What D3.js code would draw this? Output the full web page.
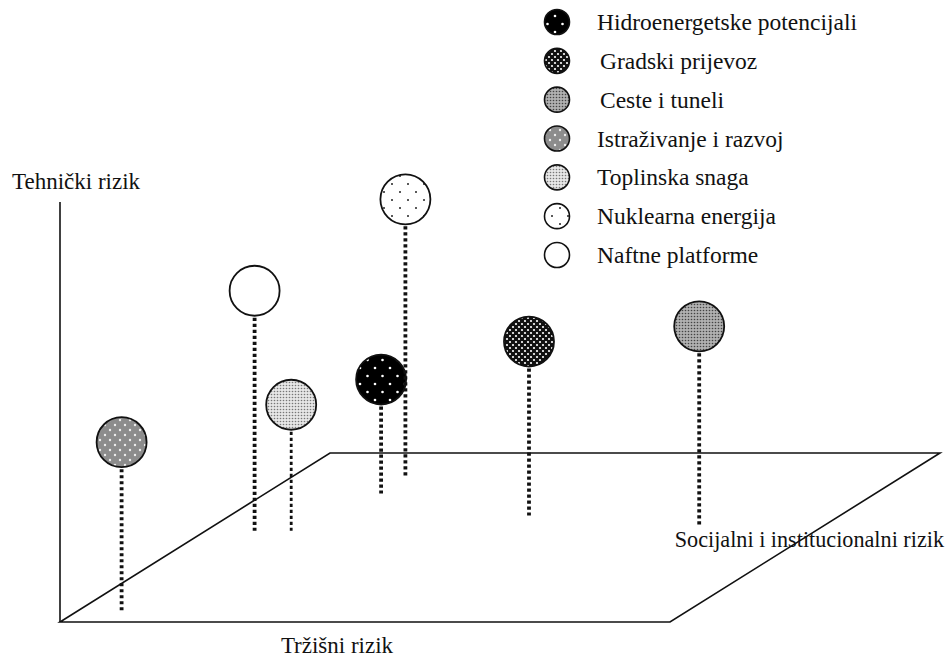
<!doctype html>
<html>
<head>
	<meta charset="utf-8">
	<script src="https://d3js.org/d3.v7.min.js"></script>
	<style>
		body { margin: 0; background: #fff; }
	</style>
</head>
<body>
<div id="chart"></div>
<script>
(function () {
	"use strict";

	// legend order (top to bottom)
	const projects = ["Hidroenergetske potencijali", "Gradski prijevoz", "Ceste i tuneli",
		"Istraživanje i razvoj", "Toplinska snaga", "Nuklearna energija", "Naftne platforme"];
	// risk values, 0-10 scale
	const marketRisk    = [1.9, 4.9, 8.0, 0.7, 1.4, 1.9, 0.8];
	const socialRisk    = [7.6, 6.3, 5.6, 0.7, 5.4, 8.5, 5.4];
	const technicalRisk = [3.8, 5.8, 6.7, 5.6, 4.2, 9.3, 8.0];
	const patternIds    = ["hidro", "gradski", "ceste", "istr", "topl", "nukl", "naft"];

	const FONT = "'Liberation Serif', 'DejaVu Serif', 'Times New Roman', serif";
	const width = 948, height = 659;
	const svg = d3.select("#chart").append("svg")
		.attr("width", width).attr("height", height)
		.attr("font-family", FONT);

	// floor plane: market risk runs along the front edge, social risk goes "into" the page
	const origin = [60, 622];
	const uScale = d3.scaleLinear().domain([0, 10]).range([0, 610]);
	const vxScale = d3.scaleLinear().domain([0, 10]).range([0, 270]);
	const vyScale = d3.scaleLinear().domain([0, 10]).range([0, 169]);
	const hScale = d3.scaleLinear().domain([0, 10]).range([0, 300]);
	const project3d = (m, s, t) => [origin[0] + uScale(m) + vxScale(s), origin[1] - vyScale(s) - hScale(t)];

	// patterns for the balls
	const defs = svg.append("defs");
	function pat(id, w, h, bg, dots, dotColor, r) {
		const p = defs.append("pattern").attr("id", id).attr("patternUnits", "userSpaceOnUse")
			.attr("width", w).attr("height", h);
		p.append("rect").attr("width", w).attr("height", h).attr("fill", bg);
		dots.forEach(d => p.append("circle").attr("cx", d[0]).attr("cy", d[1]).attr("r", r).attr("fill", dotColor));
	}
	pat("hidro", 15, 16, "#000", [[0, 0], [15, 0], [0, 16], [15, 16], [7.5, 8]], "#fff", 1.3);
	pat("gradski", 6, 6, "#111", [[0, 0], [6, 0], [0, 6], [6, 6], [3, 3]], "#fff", 1.1);
	pat("ceste", 3, 3, "#b0b0b0", [[1.5, 1.5]], "#444", 0.8);
	pat("istr", 10, 10, "#8c8c8c", [[0, 0], [10, 0], [0, 10], [10, 10], [5, 5]], "#eee", 1.2);
	pat("topl", 3, 3, "#e6e6e6", [[1.5, 1.5]], "#777", 0.8);
	pat("nukl", 16, 16, "#fff", [[0, 0], [16, 0], [0, 16], [16, 16], [8, 8]], "#222", 1.0);
	pat("naft", 10, 10, "#fff", [], "#fff", 0);

	// floor parallelogram and vertical axis
	const corners = [project3d(0, 0, 0), project3d(10, 0, 0), project3d(10, 10, 0), project3d(0, 10, 0)];
	svg.append("path")
		.attr("d", d3.line()(corners) + "Z")
		.attr("fill", "none").attr("stroke", "#111").attr("stroke-width", 1.6);
	svg.append("line")
		.attr("x1", origin[0]).attr("y1", origin[1])
		.attr("x2", origin[0]).attr("y2", project3d(0, 0, 14)[1])
		.attr("stroke", "#111").attr("stroke-width", 1.6);

	// axis labels
	svg.append("text").attr("x", 12).attr("y", 189).attr("font-size", 23).attr("fill", "#111").text("Tehnički rizik");
	svg.append("text").attr("x", 337).attr("y", 653).attr("font-size", 23).attr("fill", "#111").attr("text-anchor", "middle").text("Tržišni rizik");
	svg.append("text").attr("x", 944).attr("y", 547).attr("font-size", 22.2).attr("fill", "#111").attr("text-anchor", "end").text("Socijalni i institucionalni rizik");

	const R = 25;
	const items = projects.map((name, i) => ({
		name, pid: patternIds[i],
		base: project3d(marketRisk[i], socialRisk[i], 0),
		top: project3d(marketRisk[i], socialRisk[i], technicalRisk[i])
	}));

	// balls first, then the dotted stems (a stem overlaps the black ball)
	svg.selectAll("circle.ball").data(items).join("circle")
		.attr("class", "ball")
		.attr("cx", d => d.top[0]).attr("cy", d => d.top[1]).attr("r", R)
		.attr("fill", d => "url(#" + d.pid + ")")
		.attr("stroke", "#111").attr("stroke-width", 1.8);

	svg.selectAll("line.stem").data(items).join("line")
		.attr("class", "stem")
		.attr("x1", d => d.top[0]).attr("y1", d => d.top[1] + R + 2)
		.attr("x2", d => d.base[0]).attr("y2", d => d.base[1])
		.attr("stroke", "#111")
		.attr("stroke-width", d => d.pid === "topl" ? 2.8 : 3.8)
		.attr("stroke-dasharray", "3.2,2.8");

	// legend
	const ly = d3.scalePoint().domain(projects).range([22, 255]);
	const leg = svg.append("g");
	leg.selectAll("circle").data(items).join("circle")
		.attr("cx", 557).attr("cy", d => ly(d.name)).attr("r", 12.5)
		.attr("fill", d => "url(#" + d.pid + ")")
		.attr("stroke", "#111").attr("stroke-width", 1.6);
	leg.selectAll("text").data(items).join("text")
		.attr("x", (d, i) => (i === 1 || i === 2) ? 600 : 597)
		.attr("y", d => ly(d.name) + 8)
		.attr("font-size", 23.5)
		.attr("fill", "#111")
		.text(d => d.name);
})();
</script>
</body>
</html>
